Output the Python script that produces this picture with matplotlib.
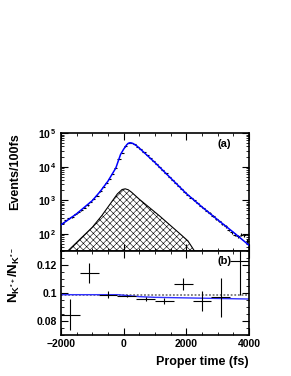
import numpy as np
import matplotlib.pyplot as plt
from matplotlib.ticker import MultipleLocator, LogLocator, FixedLocator, NullFormatter

plt.rcParams['font.family'] = ['Liberation Sans', 'DejaVu Sans']
plt.rcParams['font.weight'] = 'bold'
plt.rcParams['mathtext.fontset'] = 'custom'
plt.rcParams['mathtext.rm'] = 'Liberation Sans:bold'
plt.rcParams['mathtext.bf'] = 'Liberation Sans:bold'
plt.rcParams['mathtext.it'] = 'Liberation Sans:bold'
plt.rcParams['hatch.linewidth'] = 0.4

# top panel: events per 100 fs bin
t_bins = np.arange(-1950, 4000, 100)
counts = [209, 251, 288, 324, 380, 437, 501, 603, 724, 891,
          1096, 1380, 1862, 2512, 3236, 4365, 6166, 9120, 16600, 25120,
          39810, 48980, 50120, 45710, 38900, 33110, 27540, 22390, 18200, 14790,
          12020, 9550, 7760, 6310, 5010, 4070, 3310, 2630, 2140, 1740,
          1445, 1200, 1000, 832, 692, 575, 490, 417, 339, 275,
          234, 200, 166, 132, 112, 95, 85, 95, 91, 63]

# fitted total
fit_t = [-2000, -1500, -1000, -750, -500, -250, -100, 0, 100, 150, 200, 250,
         300, 400, 500, 1000, 1500, 2000, 2500, 3000, 3500, 4000]
fit_n = [186, 398, 977, 1820, 3715, 9120, 23000, 33110, 45000, 49500, 51290, 50500,
         48500, 42660, 35480, 13180, 4570, 1585, 631, 263, 112, 46]

# background component
bkg_t = [-1800, -1450, -1000, -700, -400, -200, -50, 50, 150, 250, 500, 1150, 1800, 2050, 2260]
bkg_n = [30, 62, 158, 347, 851, 1549, 2089, 2188, 2042, 1738, 1072, 339, 100, 62, 31]

# bottom panel: ratio in 600 fs bins
r_t = [-1700, -1100, -500, 100, 700, 1300, 1900, 2500, 3100, 3700]
ratio = [0.0845, 0.1141, 0.0988, 0.0976, 0.0960, 0.0941, 0.1064, 0.0941, 0.0969, 0.1231]
ratio_err = [0.011, 0.007, 0.0024, 0.0008, 0.0015, 0.002, 0.0040, 0.0073, 0.014, 0.0243]

rfit_t = [-2000, -200, 500, 1000, 4000]
rfit = [0.0988, 0.0988, 0.0974, 0.0969, 0.0957]
r_nomix = 0.0988

W, H = 291, 376
fig = plt.figure(figsize=(W / 100, H / 100), dpi=100)
ax1 = fig.add_axes([61 / W, 1 - 251 / H, 188 / W, 118 / H])
ax2 = fig.add_axes([61 / W, 1 - 335 / H, 188 / W, 84 / H])

# top panel
ax1.fill_between(bkg_t, bkg_n, 1, facecolor='white', edgecolor='black',
                 hatch='xxxxx', linewidth=0, zorder=1)
ax1.plot(bkg_t, bkg_n, color='black', lw=0.8, zorder=2)
ax1.errorbar(t_bins, counts, xerr=50, yerr=np.sqrt(counts), fmt='none',
             ecolor='black', elinewidth=0.8, zorder=3)
ax1.plot(fit_t, fit_n, color='blue', lw=1.1, zorder=4)
ax1.set_yscale('log')
ax1.set_xlim(-2000, 4000)
ax1.set_ylim(31, 1e5)
ax1.yaxis.set_major_locator(FixedLocator([1e2, 1e3, 1e4, 1e5]))
ax1.yaxis.set_minor_locator(LogLocator(base=10, subs=np.arange(2, 10)))
ax1.yaxis.set_minor_formatter(NullFormatter())
ax1.set_yticklabels([r'$10^{\,2}$', r'$10^{\,3}$', r'$10^{\,4}$', r'$10^{\,5}$'])
ax1.xaxis.set_major_locator(MultipleLocator(2000))
ax1.xaxis.set_minor_locator(MultipleLocator(500))
ax1.tick_params(labelbottom=False)
ax1.text(0.905, 0.95, '(a)', transform=ax1.transAxes, ha='right', va='top',
         fontsize=8, fontweight='bold')

# bottom panel
ax2.axhline(r_nomix, color='#777777', ls=(0, (1, 1)), lw=1.3, zorder=1)
ax2.plot(rfit_t, rfit, color='#3030ff', lw=1.0, zorder=2)
ax2.errorbar(r_t, ratio, xerr=300, yerr=ratio_err, fmt='none',
             ecolor='black', elinewidth=0.8, zorder=3)
ax2.set_xlim(-2000, 4000)
ax2.set_ylim(0.07, 0.13)
ax2.xaxis.set_major_locator(MultipleLocator(2000))
ax2.xaxis.set_minor_locator(MultipleLocator(500))
ax2.yaxis.set_major_locator(FixedLocator([0.08, 0.1, 0.12]))
ax2.yaxis.set_minor_locator(MultipleLocator(0.005))
ax2.set_yticklabels(['0.08', '0.1', '0.12'])
ax2.text(0.905, 0.94, '(b)', transform=ax2.transAxes, ha='right', va='top',
         fontsize=8, fontweight='bold')

for ax in (ax1, ax2):
    for s in ax.spines.values():
        s.set_linewidth(1.2)
    ax.tick_params(which='both', direction='in', top=True, right=True,
                   labelsize=7.5, pad=3)
    ax.tick_params(which='major', length=5, width=0.8)
    ax.tick_params(which='minor', length=2.5, width=0.6)

fig.text(15 / W, 1 - 172 / H, 'Events/100fs', rotation=90, ha='center',
         va='center', fontsize=9, fontweight='bold')
fig.text(14 / W, 1 - 275 / H, r'$N_{K^{*+}}/N_{K^{*-}}$', rotation=90,
         ha='center', va='center', fontsize=9.5)
fig.text(249 / W, 1 - 362 / H, 'Proper time (fs)', ha='right', va='center',
         fontsize=9, fontweight='bold')

fig.savefig('out.png', dpi=100)
